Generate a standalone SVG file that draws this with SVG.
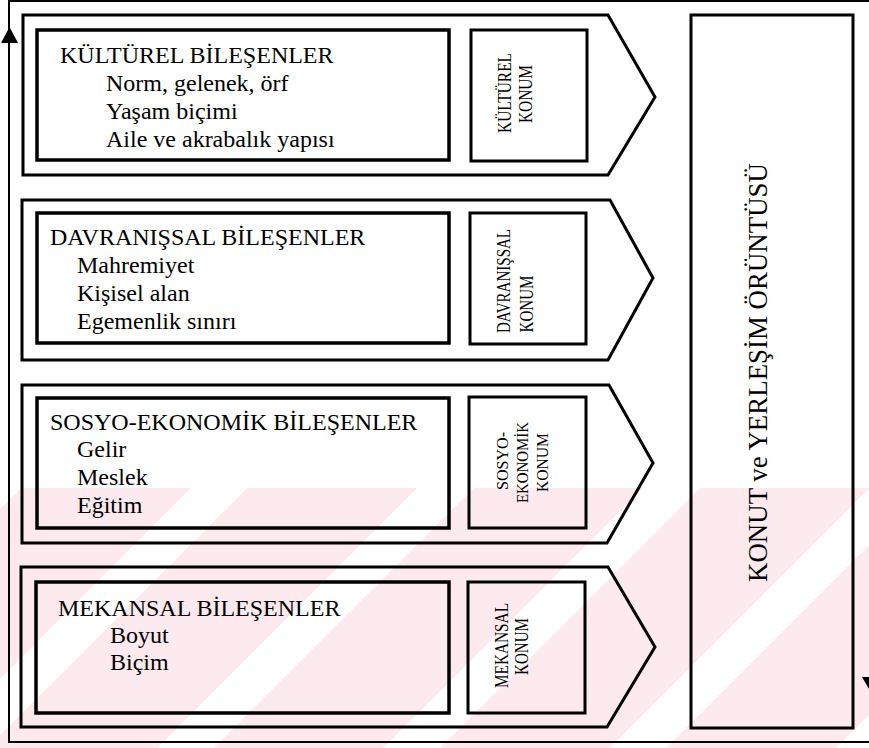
<svg xmlns="http://www.w3.org/2000/svg" width="869" height="748" viewBox="0 0 869 748">
  <defs>
    <style>
      .frame{fill:none;stroke:#000;stroke-width:2}
      .band{fill:none;stroke:#000;stroke-width:3;stroke-linejoin:miter}
      .inner{fill:none;stroke:#000;stroke-width:3.5}
      .konum{fill:none;stroke:#000;stroke-width:3}
      .t{font-family:"Liberation Serif","Times New Roman",serif;font-size:24px;fill:#000}
      .k{font-family:"Liberation Serif","Times New Roman",serif;font-size:19px;fill:#000;text-anchor:middle}
      .k3{font-family:"Liberation Serif","Times New Roman",serif;font-size:17px;fill:#000;text-anchor:middle}
      .big{font-family:"Liberation Serif","Times New Roman",serif;font-size:27px;fill:#000;text-anchor:middle}
    </style>
    <pattern id="wm" patternUnits="userSpaceOnUse" width="160" height="160" patternTransform="rotate(45)">
      <rect x="0" y="0" width="160" height="160" fill="#fdeaee"/>
      <rect x="0" y="0" width="40" height="160" fill="#ffffff"/>
    </pattern>
  </defs>

  <rect x="0" y="0" width="869" height="748" fill="#ffffff"/>
  <g id="watermark">
    <rect x="0" y="488" width="869" height="260" fill="url(#wm)"/>
  </g>

  <g id="outer-frame">
    <rect class="frame" x="9" y="1" width="870" height="741"/>
  </g>

  <g id="connectors">
    <polygon points="9.5,27 1,43 18,43" fill="#000"/>
    <polygon points="862,677 882,677 872,694" fill="#000"/>
  </g>

  <g id="band-kulturel">
    <polygon class="band" points="23,15 608,15 655,97 608,175 23,175"/>
    <rect class="inner" x="37" y="30" width="412" height="130"/>
    <text class="t" x="60" y="63">KÜLTÜREL BİLEŞENLER</text>
    <text class="t" x="106" y="91">Norm, gelenek, örf</text>
    <text class="t" x="106" y="119">Yaşam biçimi</text>
    <text class="t" x="106" y="147">Aile ve akrabalık yapısı</text>
  </g>
  <g id="konum-kulturel">
    <rect class="konum" x="471" y="30" width="116" height="131"/>
    <text class="k" transform="translate(511,93) rotate(-90)" textLength="80" lengthAdjust="spacingAndGlyphs">KÜLTÜREL</text>
    <text class="k" transform="translate(532,94) rotate(-90)" textLength="58" lengthAdjust="spacingAndGlyphs">KONUM</text>
  </g>

  <g id="band-davranissal">
    <polygon class="band" points="22,200 610,200 653,278 608,360 22,360"/>
    <rect class="inner" x="37" y="213" width="412" height="130"/>
    <text class="t" x="50" y="245">DAVRANIŞSAL BİLEŞENLER</text>
    <text class="t" x="77" y="273">Mahremiyet</text>
    <text class="t" x="77" y="301">Kişisel alan</text>
    <text class="t" x="77" y="329">Egemenlik sınırı</text>
  </g>
  <g id="konum-davranissal">
    <rect class="konum" x="470" y="213" width="116" height="131"/>
    <text class="k" transform="translate(510,281) rotate(-90)" textLength="104" lengthAdjust="spacingAndGlyphs">DAVRANIŞSAL</text>
    <text class="k" transform="translate(533,304) rotate(-90)" textLength="57" lengthAdjust="spacingAndGlyphs">KONUM</text>
  </g>

  <g id="band-sosyo">
    <polygon class="band" points="22,385 609,385 653,463 607,543 22,543"/>
    <rect class="inner" x="37" y="398" width="412" height="130"/>
    <text class="t" x="50" y="430">SOSYO-EKONOMİK BİLEŞENLER</text>
    <text class="t" x="77" y="457">Gelir</text>
    <text class="t" x="77" y="485">Meslek</text>
    <text class="t" x="77" y="513">Eğitim</text>
  </g>
  <g id="konum-sosyo">
    <rect class="konum" x="469" y="397" width="117" height="131"/>
    <text class="k3" transform="translate(508,461) rotate(-90)" textLength="58" lengthAdjust="spacingAndGlyphs">SOSYO-</text>
    <text class="k3" transform="translate(528,462.5) rotate(-90)" textLength="81" lengthAdjust="spacingAndGlyphs">EKONOMİK</text>
    <text class="k3" transform="translate(548,462.5) rotate(-90)" textLength="59" lengthAdjust="spacingAndGlyphs">KONUM</text>
  </g>

  <g id="band-mekansal">
    <polygon class="band" points="21,567 608,567 655,647 607,727 21,727"/>
    <rect class="inner" x="36" y="582" width="413" height="131"/>
    <text class="t" x="58" y="616">MEKANSAL BİLEŞENLER</text>
    <text class="t" x="110" y="643">Boyut</text>
    <text class="t" x="110" y="670">Biçim</text>
  </g>
  <g id="konum-mekansal">
    <rect class="konum" x="468" y="582" width="117" height="131"/>
    <text class="k" transform="translate(508,645.5) rotate(-90)" textLength="85" lengthAdjust="spacingAndGlyphs">MEKANSAL</text>
    <text class="k" transform="translate(528,646.5) rotate(-90)" textLength="57" lengthAdjust="spacingAndGlyphs">KONUM</text>
  </g>

  <g id="konut">
    <rect class="konum" x="691" y="15" width="162" height="713"/>
    <text class="big" transform="translate(767,372.5) rotate(-90)" textLength="419" lengthAdjust="spacingAndGlyphs">KONUT ve YERLEŞİM ÖRÜNTÜSÜ</text>
  </g>
</svg>
